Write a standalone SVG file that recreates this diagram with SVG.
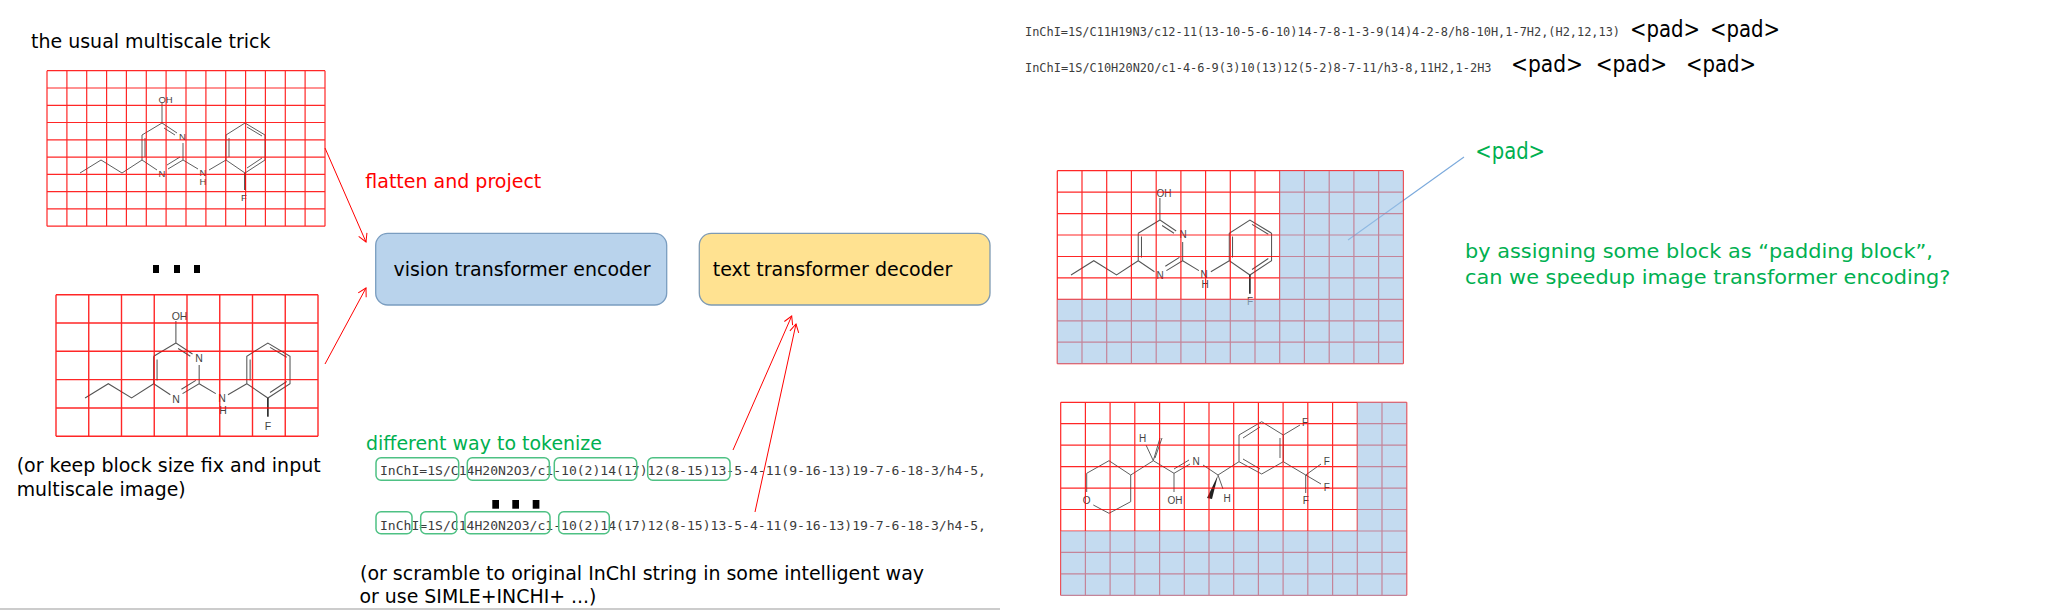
<svg xmlns="http://www.w3.org/2000/svg" xmlns:xlink="http://www.w3.org/1999/xlink" width="2062" height="610" viewBox="0 0 2062 610">
<style>
text{font-family:"DejaVu Sans",sans-serif;font-size:19px;fill:#000}
.red{fill:#f00}
.green{fill:#00b050}
.mono{font-family:"DejaVu Sans Mono",monospace;fill:#3c3c3c}
.atom{font-family:"Liberation Sans",sans-serif;fill:#444;text-anchor:middle}
.grid{fill:none;stroke:#f00;stroke-width:1.2;stroke-opacity:.85}
.pad{fill:#9dc3e6;fill-opacity:.6}
.bond{fill:none;stroke:#555;stroke-width:.95}
.wedge{fill:none;stroke:#333;stroke-width:1.6}
.box{stroke-width:1.3}
.tok{fill:none;stroke:#4ec184;stroke-width:1.5}
.link{fill:none;stroke:#f00;stroke-width:1;marker-end:url(#head)}
.dot{fill:#000}
</style>
<defs>
<marker id="head" markerUnits="userSpaceOnUse" markerWidth="14" markerHeight="14" refX="11" refY="6" orient="auto">
<path d="M3 1.5L11 6L3 10.5" fill="none" stroke="#f00" stroke-width="1"/>
</marker>
<g id="mol">
<path class="bond" d="M162 103V123L177 133M164 128L175 135M183 143V160L168 169M180 157L167 165M142 160L157 170M142 135V160M145 138V157M142 135L162 123M142 160L122 173L101 160L80 173M183 160L198 169M209 170L226 160M226 160V135L245 123L265 135V160L245 173ZM229 157V138M247 127L262 136M262 158L247 168"/>
<path class="wedge" d="M245 173V190"/>
</g>
</defs>

<g id="label-multiscale"><text x="31" y="48" textLength="239.5" lengthAdjust="spacingAndGlyphs">the usual multiscale trick</text></g>

<g id="grid-image-1">
<use xlink:href="#mol" href="#mol"/>
<text class="atom" style="font-size:9.5px" x="165.5" y="102.5">OH</text>
<text class="atom" style="font-size:9.5px" x="182.5" y="139.5">N</text>
<text class="atom" style="font-size:9.5px" x="162" y="176.5">N</text>
<text class="atom" style="font-size:9.5px" x="203" y="175.5">N</text>
<text class="atom" style="font-size:9.5px" x="203" y="185">H</text>
<text class="atom" style="font-size:9.5px" x="244" y="201">F</text>
<path class="grid" d="M47 70.7V226.2M66.9 70.7V226.2M86.7 70.7V226.2M106.6 70.7V226.2M126.4 70.7V226.2M146.3 70.7V226.2M166.1 70.7V226.2M186 70.7V226.2M205.9 70.7V226.2M225.7 70.7V226.2M245.6 70.7V226.2M265.4 70.7V226.2M285.3 70.7V226.2M305.1 70.7V226.2M325 70.7V226.2M47 70.7H325M47 88H325M47 105.3H325M47 122.5H325M47 139.8H325M47 157.1H325M47 174.4H325M47 191.7H325M47 208.9H325M47 226.2H325"/>
</g>

<g id="dots-images">
<rect class="dot" x="153" y="265" width="6" height="8"/>
<rect class="dot" x="174" y="265" width="6" height="8"/>
<rect class="dot" x="194" y="265" width="6" height="8"/>
</g>

<g id="grid-image-2">
<use xlink:href="#mol" href="#mol" transform="matrix(1.108 0 0 1.1 -3.6 207.7)"/>
<text class="atom" style="font-size:10.5px" x="179.5" y="320">OH</text>
<text class="atom" style="font-size:10.5px" x="199" y="362">N</text>
<text class="atom" style="font-size:10.5px" x="176" y="403">N</text>
<text class="atom" style="font-size:10.5px" x="222" y="402">N</text>
<text class="atom" style="font-size:10.5px" x="223" y="414">H</text>
<text class="atom" style="font-size:10.5px" x="268" y="430">F</text>
<path class="grid" d="M56 294.7V436.3M88.75 294.7V436.3M121.5 294.7V436.3M154.25 294.7V436.3M187 294.7V436.3M219.75 294.7V436.3M252.5 294.7V436.3M285.25 294.7V436.3M318 294.7V436.3M56 294.7H318M56 323H318M56 351.3H318M56 379.6H318M56 408H318M56 436.3H318" style="stroke-width:1.4"/>
</g>

<g id="label-block-size">
<text x="16.7" y="471.7" textLength="304" lengthAdjust="spacingAndGlyphs">(or keep block size fix and input</text>
<text x="16.7" y="495.7" textLength="169" lengthAdjust="spacingAndGlyphs">multiscale image)</text>
</g>

<g id="label-flatten"><text class="red" x="365.3" y="188" textLength="176" lengthAdjust="spacingAndGlyphs">flatten and project</text></g>

<g id="encoder">
<rect class="box" x="375.7" y="233.4" width="291" height="71.6" rx="12" fill="#b9d3ec" stroke="#7a9dc0"/>
<text x="393.5" y="276" textLength="257" lengthAdjust="spacingAndGlyphs">vision transformer encoder</text>
</g>
<g id="decoder">
<rect class="box" x="699.3" y="233.4" width="290.7" height="71.6" rx="12" fill="#ffe291" stroke="#7e9ab3"/>
<text x="712.7" y="276" textLength="239.6" lengthAdjust="spacingAndGlyphs">text transformer decoder</text>
</g>

<g id="tokenize">
<text class="green" x="366" y="450" textLength="236" lengthAdjust="spacingAndGlyphs">different way to tokenize</text>
<text class="mono" style="font-size:13.07px" x="380" y="475" textLength="606" lengthAdjust="spacingAndGlyphs">InChI=1S/C14H20N2O3/c1-10(2)14(17)12(8-15)13-5-4-11(9-16-13)19-7-6-18-3/h4-5,</text>
<rect class="tok" x="376" y="457.7" width="82.7" height="22.6" rx="5"/>
<rect class="tok" x="467.3" y="457.7" width="82" height="22.6" rx="5"/>
<rect class="tok" x="554.3" y="457.7" width="82.4" height="22.6" rx="5"/>
<rect class="tok" x="647.7" y="457.7" width="82.3" height="22.6" rx="5"/>
<rect class="dot" x="492.3" y="500" width="6.7" height="8.7"/>
<rect class="dot" x="512.3" y="500" width="6.7" height="8.7"/>
<rect class="dot" x="532.7" y="500" width="6.7" height="8.7"/>
<text class="mono" style="font-size:13.07px" x="380" y="530" textLength="606" lengthAdjust="spacingAndGlyphs">InChI=1S/C14H20N2O3/c1-10(2)14(17)12(8-15)13-5-4-11(9-16-13)19-7-6-18-3/h4-5,</text>
<rect class="tok" x="376" y="511.7" width="36" height="22" rx="5"/>
<rect class="tok" x="420.7" y="511.7" width="36" height="22" rx="5"/>
<rect class="tok" x="465" y="511.7" width="85" height="22" rx="5"/>
<rect class="tok" x="558.7" y="511.7" width="50.6" height="22" rx="5"/>
</g>

<g id="label-scramble">
<text x="360" y="580" textLength="564" lengthAdjust="spacingAndGlyphs">(or scramble to original InChI string in some intelligent way</text>
<text x="359.5" y="603" textLength="237" lengthAdjust="spacingAndGlyphs">or use SIMLE+INCHI+ ...)</text>
</g>

<g id="page-edge"><path d="M0 609H1000" fill="none" stroke="#bbb" stroke-width="1.5"/></g>

<g id="connectors">
<path class="link" d="M325 148L366 242"/>
<path class="link" d="M325 364L366 288"/>
<path class="link" d="M733 450L791.7 316"/>
<path class="link" d="M755 512L796 324"/>
<path d="M1348 240L1464 157" fill="none" stroke="#7aa9dc" stroke-width="1.1"/>
</g>

<g id="padded-strings">
<text class="mono" style="font-size:11.93px" x="1025" y="36" textLength="595" lengthAdjust="spacingAndGlyphs">InChI=1S/C11H19N3/c12-11(13-10-5-6-10)14-7-8-1-3-9(14)4-2-8/h8-10H,1-7H2,(H2,12,13)</text>
<text style="font-size:22.8px" x="1630" y="37" textLength="70" lengthAdjust="spacingAndGlyphs">&lt;pad&gt;</text>
<text style="font-size:22.8px" x="1710" y="37" textLength="70" lengthAdjust="spacingAndGlyphs">&lt;pad&gt;</text>
<text class="mono" style="font-size:11.93px" x="1025" y="72" textLength="466.5" lengthAdjust="spacingAndGlyphs">InChI=1S/C10H20N2O/c1-4-6-9(3)10(13)12(5-2)8-7-11/h3-8,11H2,1-2H3</text>
<text style="font-size:22.8px" x="1511" y="72" textLength="72" lengthAdjust="spacingAndGlyphs">&lt;pad&gt;</text>
<text style="font-size:22.8px" x="1595.7" y="72" textLength="71.5" lengthAdjust="spacingAndGlyphs">&lt;pad&gt;</text>
<text style="font-size:22.8px" x="1686" y="72" textLength="70" lengthAdjust="spacingAndGlyphs">&lt;pad&gt;</text>
</g>

<g id="label-pad"><text class="green" style="font-size:22.8px" x="1475.3" y="159" textLength="69.7" lengthAdjust="spacingAndGlyphs">&lt;pad&gt;</text></g>

<g id="label-padding-block">
<text class="green" x="1465" y="258" textLength="468" lengthAdjust="spacingAndGlyphs">by assigning some block as “padding block”,</text>
<text class="green" x="1465" y="284" textLength="485.4" lengthAdjust="spacingAndGlyphs">can we speedup image transformer encoding?</text>
</g>

<g id="grid-padded-1">
<use xlink:href="#mol" href="#mol" transform="matrix(1.084 0 0 1.1 984.3 84.7)"/>
<text class="atom" style="font-size:10px" x="1164" y="197">OH</text>
<text class="atom" style="font-size:10px" x="1183" y="238">N</text>
<text class="atom" style="font-size:10px" x="1160" y="279">N</text>
<text class="atom" style="font-size:10px" x="1204" y="278">N</text>
<text class="atom" style="font-size:10px" x="1205" y="288">H</text>
<text class="atom" style="font-size:10px" x="1250" y="305">F</text>
<path class="grid" d="M1057.3 170.7V363.7M1082 170.7V363.7M1106.7 170.7V363.7M1131.4 170.7V363.7M1156.2 170.7V363.7M1180.9 170.7V363.7M1205.6 170.7V363.7M1230.3 170.7V363.7M1255 170.7V363.7M1279.7 170.7V363.7M1304.4 170.7V363.7M1329.2 170.7V363.7M1353.9 170.7V363.7M1378.6 170.7V363.7M1403.3 170.7V363.7M1057.3 170.7H1403.3M1057.3 192.1H1403.3M1057.3 213.6H1403.3M1057.3 235H1403.3M1057.3 256.5H1403.3M1057.3 277.9H1403.3M1057.3 299.4H1403.3M1057.3 320.8H1403.3M1057.3 342.2H1403.3M1057.3 363.7H1403.3"/>
<path class="pad" d="M1279.7 170.7H1403.3V363.7H1057.3V299.4H1279.7Z"/>
</g>

<g id="grid-padded-2">
<path class="bond" d="M1093.3 505L1109 513.3L1130.7 501.7V475L1109 460.7L1086.7 473.3V492M1130.7 475L1153.3 460.7L1174 473.3M1153.3 460.7L1146 445M1153.3 460.7L1160 438M1155 458L1162 438M1174 473.3L1190 464M1174 469L1189 460M1174 473.3V492M1203 465L1218 475M1218 475L1223 489M1218 475L1239 461.7L1239 435L1261.7 421.7L1283.3 435V461.7L1261.7 474L1239 461.7M1243 438L1260 427M1280 438V458M1243 459L1260 469M1283.3 435L1300 425M1283.3 461.7L1305.7 475L1321 464M1305.7 475L1321 484M1305.7 475V493"/>
<path d="M1218 475L1207 498L1212 499Z" fill="#222"/>
<text class="atom" style="font-size:10px" x="1142.7" y="442">H</text>
<text class="atom" style="font-size:10px" x="1086.7" y="504">O</text>
<text class="atom" style="font-size:10px" x="1175" y="504">OH</text>
<text class="atom" style="font-size:10px" x="1196" y="465">N</text>
<text class="atom" style="font-size:10px" x="1227" y="502">H</text>
<text class="atom" style="font-size:10px" x="1305" y="426">F</text>
<text class="atom" style="font-size:10px" x="1326.7" y="465">F</text>
<text class="atom" style="font-size:10px" x="1326.7" y="491">F</text>
<text class="atom" style="font-size:10px" x="1305.7" y="504">F</text>
<path class="grid" d="M1060.7 402.3V595.3M1085.4 402.3V595.3M1110.1 402.3V595.3M1134.8 402.3V595.3M1159.6 402.3V595.3M1184.3 402.3V595.3M1209 402.3V595.3M1233.7 402.3V595.3M1258.4 402.3V595.3M1283.1 402.3V595.3M1307.8 402.3V595.3M1332.6 402.3V595.3M1357.3 402.3V595.3M1382 402.3V595.3M1406.7 402.3V595.3M1060.7 402.3H1406.7M1060.7 423.7H1406.7M1060.7 445.2H1406.7M1060.7 466.6H1406.7M1060.7 488.1H1406.7M1060.7 509.5H1406.7M1060.7 531H1406.7M1060.7 552.4H1406.7M1060.7 573.8H1406.7M1060.7 595.3H1406.7"/>
<path class="pad" d="M1357.3 402.3H1406.7V596H1060.7V531H1357.3Z"/>
</g>
</svg>
